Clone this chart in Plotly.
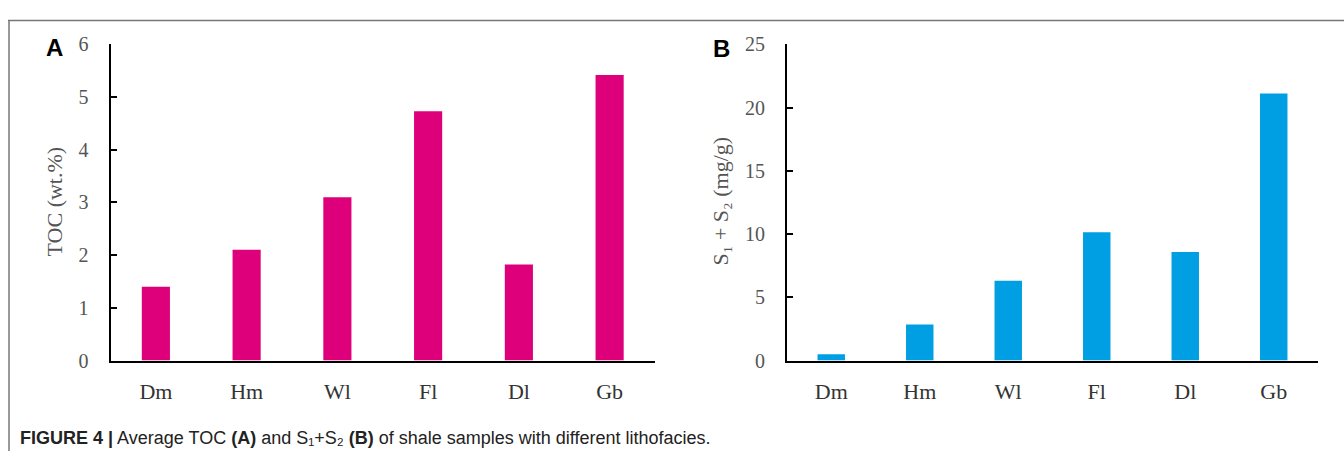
import plotly.graph_objects as go

categories = ["Dm", "Hm", "Wl", "Fl", "Dl", "Gb"]
toc_values = [1.40, 2.10, 3.10, 4.73, 1.82, 5.42]
s1s2_values = [0.50, 2.85, 6.31, 10.14, 8.58, 21.12]
toc_ticks = [0, 1, 2, 3, 4, 5, 6]
s1s2_ticks = [0, 5, 10, 15, 20, 25]

W, H = 1344, 462
PINK = "#DE007A"
BLUE = "#009FE3"
SERIF = "Liberation Serif, Times New Roman, serif"
SANS = "Liberation Sans, Arial, sans-serif"

def px_x(x):
    return x / W

def px_y(y):
    return 1 - y / H

fig = go.Figure()
fig.add_trace(go.Bar(x=categories, y=toc_values, marker=dict(color=PINK, line=dict(width=0)),
                     width=0.31, xaxis="x", yaxis="y", showlegend=False))
fig.add_trace(go.Bar(x=categories, y=s1s2_values, marker=dict(color=BLUE, line=dict(width=0)),
                     width=0.31, xaxis="x2", yaxis="y2", showlegend=False))

ydom = [px_y(367), px_y(35)]
xcommon = dict(type="category", range=[-0.5, 5.5], showline=True, linecolor="black", linewidth=2,
               ticks="", showgrid=False, zeroline=False,
               tickfont=dict(family=SERIF, size=22, color="#333"), ticklabelstandoff=10)
ycommon = dict(showline=True, linecolor="black", linewidth=2, ticks="inside", ticklen=6,
               tickwidth=2, tickcolor="black", showgrid=False, zeroline=False,
               tickfont=dict(family=SERIF, size=20, color="#555"), ticklabelstandoff=16)

fig.update_layout(
    width=W, height=H, margin=dict(l=0, r=0, t=0, b=0),
    paper_bgcolor="white", plot_bgcolor="white",
    xaxis=dict(domain=[px_x(110.5), px_x(655)], anchor="y", **xcommon),
    yaxis=dict(domain=ydom, anchor="x", range=[0, 6], tickvals=toc_ticks, **ycommon),
    xaxis2=dict(domain=[px_x(787), px_x(1318)], anchor="y2", **xcommon),
    yaxis2=dict(domain=ydom, anchor="x2", range=[0, 25], tickvals=s1s2_ticks, **ycommon),
    bargap=0.69,
)

annotations = [
    dict(x=px_x(54), y=px_y(200), text="TOC (wt.%)", textangle=-90, showarrow=False,
         font=dict(family=SERIF, size=22, color="#555"), xref="paper", yref="paper",
         xanchor="center", yanchor="middle"),
    dict(x=px_x(720), y=px_y(200), text="S\u2081 + S\u2082 (mg/g)",
         textangle=-90, showarrow=False,
         font=dict(family=SERIF, size=22, color="#555"), xref="paper", yref="paper",
         xanchor="center", yanchor="middle"),
    dict(x=px_x(54), y=px_y(38), text="<b>A</b>", showarrow=False,
         font=dict(family=SANS, size=24, color="black"), xref="paper", yref="paper",
         xanchor="center", yanchor="middle"),
    dict(x=px_x(721), y=px_y(39), text="<b>B</b>", showarrow=False,
         font=dict(family=SANS, size=24, color="black"), xref="paper", yref="paper",
         xanchor="center", yanchor="middle"),
    dict(x=px_x(18), y=px_y(448),
         text="<b>FIGURE 4 |</b> Average TOC <b>(A)</b> and S\u2081+S\u2082 <b>(B)</b> of shale samples with different lithofacies.",
         showarrow=False, font=dict(family=SANS, size=18, color="#222"), xref="paper", yref="paper",
         xanchor="left", yanchor="middle"),
]
fig.update_layout(annotations=annotations)

fig.add_shape(type="line", xref="paper", yref="paper", x0=px_x(8), x1=1, y0=px_y(10), y1=px_y(10),
              line=dict(color="#777", width=1.5))
fig.add_shape(type="line", xref="paper", yref="paper", x0=px_x(9), x1=px_x(9), y0=0, y1=px_y(10),
              line=dict(color="#777", width=1.5))

fig.write_html("out.html")
